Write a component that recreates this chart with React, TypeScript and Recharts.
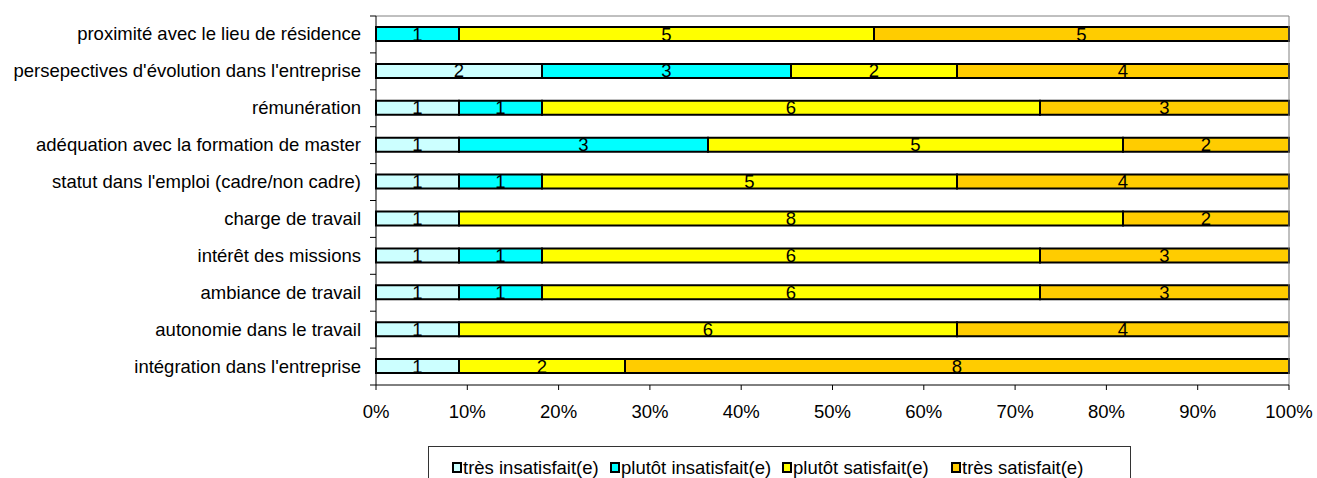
import React from 'react';
import { BarChart, Bar, XAxis, YAxis, LabelList, ReferenceLine } from 'recharts';

const categories = [
  'proximité avec le lieu de résidence',
  "persepectives d'évolution dans l'entreprise",
  'rémunération',
  'adéquation avec la formation de master',
  "statut dans l'emploi (cadre/non cadre)",
  'charge de travail',
  'intérêt des missions',
  'ambiance de travail',
  'autonomie dans le travail',
  "intégration dans l'entreprise",
];

const tresInsatisfait = [0, 2, 1, 1, 1, 1, 1, 1, 1, 1];
const plutotInsatisfait = [1, 3, 1, 3, 1, 0, 1, 1, 0, 0];
const plutotSatisfait = [5, 2, 6, 5, 5, 8, 6, 6, 6, 2];
const tresSatisfait = [5, 4, 3, 2, 4, 2, 3, 3, 4, 8];

const xTicks = [0, 0.1, 0.2, 0.3, 0.4, 0.5, 0.6, 0.7, 0.8, 0.9, 1];

const series = [
  { key: 'ti', name: 'très insatisfait(e)', color: '#CCFFFF' },
  { key: 'pi', name: 'plutôt insatisfait(e)', color: '#00FFFF' },
  { key: 'ps', name: 'plutôt satisfait(e)', color: '#FFFF00' },
  { key: 'ts', name: 'très satisfait(e)', color: '#FFCC00' },
];

const data = categories.map((name, i) => ({
  name,
  ti: tresInsatisfait[i],
  pi: plutotInsatisfait[i],
  ps: plutotSatisfait[i],
  ts: tresSatisfait[i],
}));

const FONT = 'Liberation Sans, Arial, sans-serif';
const FS = 18.5;
const W = 1309;
const H = 470;
const margin = { top: 8, right: 28, left: 0, bottom: 0 };
const Y_WIDTH = 368;
const X_HEIGHT = 93;
const band = (H - margin.top - X_HEIGHT) / categories.length;

const YTick = (props: any) => {
  const { x, y, payload, index } = props;
  const axisX = x + 8;
  return (
    <g>
      <text x={axisX - 15} y={y} dy={6} textAnchor="end" fontSize={FS} fontFamily={FONT} fill="#000">
        {payload.value}
      </text>
      <line x1={axisX - 6} x2={axisX} y1={y - band / 2} y2={y - band / 2} stroke="#000" strokeWidth={1} />
      {index === categories.length - 1 && (
        <line x1={axisX - 6} x2={axisX} y1={y + band / 2} y2={y + band / 2} stroke="#000" strokeWidth={1} />
      )}
    </g>
  );
};

const hideZero = (v: any) => (v ? v : '');

const legendPos = [23, 181, 353, 522];

export default function App() {
  return (
    <div
      style={{
        width: 1317,
        height: 478,
        overflow: 'hidden',
        boxSizing: 'border-box',
        padding: '8px 0 0 8px',
        background: '#fff',
      }}
    >
      <style>{`body { margin: 0; overflow: hidden; } .recharts-wrapper, .recharts-surface { overflow: visible !important; }`}</style>
      <div style={{ position: 'relative', width: W, height: H }}>
        <BarChart
          width={W}
          height={H}
          data={data}
          layout="vertical"
          stackOffset="expand"
          margin={margin}
          barSize={14}
        >
          <XAxis
            type="number"
            domain={[0, 1]}
            ticks={xTicks}
            tickFormatter={(v: number) => `${Math.round(v * 100)}%`}
            height={X_HEIGHT}
            tickSize={5}
            tickMargin={15}
            axisLine={{ stroke: '#000' }}
            tickLine={{ stroke: '#000' }}
            tick={{ fontSize: FS, fontFamily: FONT, fill: '#000' }}
          />
          <YAxis
            type="category"
            dataKey="name"
            width={Y_WIDTH}
            tickSize={6}
            tickLine={false}
            axisLine={{ stroke: '#000' }}
            tick={<YTick />}
            interval={0}
          />
          <ReferenceLine y={categories[0]} position="start" stroke="#808080" strokeWidth={1} />
          <ReferenceLine x={1} stroke="#808080" strokeWidth={1} />
          {series.map((s) => (
            <Bar
              key={s.key}
              dataKey={s.key}
              name={s.name}
              stackId="a"
              fill={s.color}
              stroke="#000"
              strokeWidth={2}
              isAnimationActive={false}
            >
              <LabelList
                dataKey={s.key}
                position="center"
                formatter={hideZero}
                style={{ fontSize: FS, fontFamily: FONT, fill: '#000' }}
              />
            </Bar>
          ))}
        </BarChart>
        <div
          style={{
            position: 'absolute',
            left: 420,
            top: 438,
            width: 703,
            height: 40,
            border: '1px solid #333',
            boxSizing: 'border-box',
            fontFamily: FONT,
            fontSize: FS,
          }}
        >
          {series.map((s, i) => (
            <div
              key={s.key}
              style={{
                position: 'absolute',
                left: legendPos[i],
                top: 10,
                display: 'flex',
                alignItems: 'center',
                whiteSpace: 'nowrap',
                lineHeight: '21px',
              }}
            >
              <span
                style={{
                  display: 'inline-block',
                  width: 6,
                  height: 7,
                  border: '2px solid #000',
                  background: s.color,
                  marginRight: 1,
                }}
              />
              {s.name}
            </div>
          ))}
        </div>
      </div>
    </div>
  );
}
